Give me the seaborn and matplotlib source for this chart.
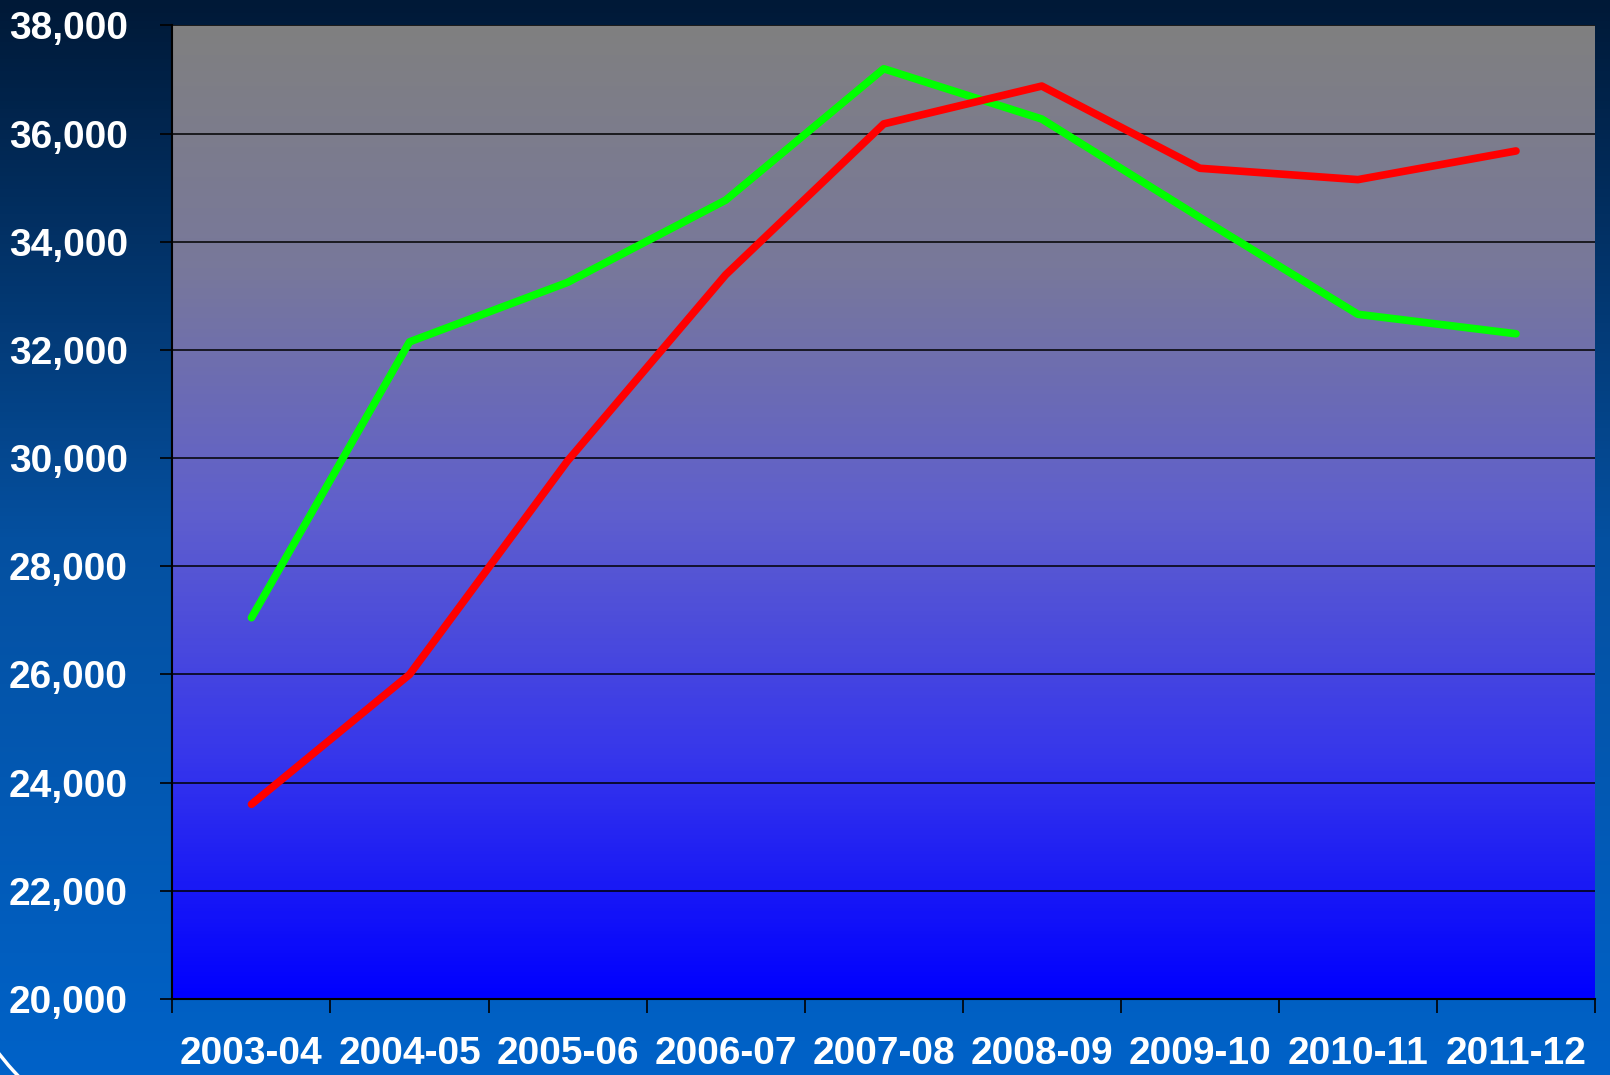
import numpy as np
import pandas as pd
import matplotlib
matplotlib.use("Agg")
import matplotlib.pyplot as plt
import seaborn as sns
from matplotlib.colors import LinearSegmentedColormap
from matplotlib.patches import Arc

# data
years = ["2003-04", "2004-05", "2005-06", "2006-07", "2007-08",
         "2008-09", "2009-10", "2010-11", "2011-12"]
green_vals = [27050, 32150, 33250, 34770, 37200, 36270, 34450, 32660, 32300]
red_vals = [23600, 26000, 29950, 33390, 36180, 36880, 35360, 35150, 35680]
y_ticks = list(range(20000, 38001, 2000))

df = pd.DataFrame({
    "year": years * 2,
    "value": green_vals + red_vals,
    "series": ["green"] * len(years) + ["red"] * len(years),
})

sns.set_style("white")
plt.rcParams['font.family'] = ['Liberation Sans', 'DejaVu Sans']

fig = plt.figure(figsize=(16.1, 10.75), dpi=100)

# slide background gradient (dark navy top -> blue bottom)
bg = fig.add_axes([0, 0, 1, 1], zorder=-10)
bg_cmap = LinearSegmentedColormap.from_list(
    "bg", [(0.0, (0/255, 25/255, 55/255)), (0.5, (5/255, 80/255, 160/255)),
           (1.0, (0/255, 98/255, 200/255))])
bg.imshow(np.linspace(0, 1, 256).reshape(-1, 1), cmap=bg_cmap, aspect="auto",
          extent=[0, 1, 0, 1])
bg.set_axis_off()
# decorative arc bottom-left
bg.add_patch(Arc((200, 175), 506, 506, theta1=195, theta2=250, color="white",
                 lw=2.5, transform=None))

ax = fig.add_axes([0.1071, 0.0707, 0.8836, 0.9056])
ax.patch.set_alpha(0)
plot_cmap = LinearSegmentedColormap.from_list(
    "plot", [(0.0, (128/255, 128/255, 128/255)), (0.25, (120/255, 120/255, 155/255)),
             (0.5, (95/255, 95/255, 205/255)), (0.75, (55/255, 55/255, 235/255)),
             (1.0, (0, 0, 1))])
ax.imshow(np.linspace(0, 1, 256).reshape(-1, 1), cmap=plot_cmap, aspect="auto",
          extent=[0, 1, 0, 1], transform=ax.transAxes, zorder=-1)

sns.lineplot(data=df, x="year", y="value", hue="series",
             palette={"green": "#00ff00", "red": "#ff0000"},
             linewidth=5.5, legend=False, ax=ax, sort=False,
             solid_capstyle="round", solid_joinstyle="round")

ax.set_xlim(-0.5, len(years) - 0.5)
ax.set_ylim(20000, 38000)
ax.set_yticks(y_ticks)
ax.set_yticklabels([f"{v:,}" for v in y_ticks])
ax.set_xticks(range(len(years)))
ax.set_xticklabels(years)
ax.set_xticks(np.arange(-0.5, len(years)), minor=True)

ax.grid(axis="y", color="black", linewidth=1.1)
ax.set_axisbelow(True)
ax.set_xlabel("")
ax.set_ylabel("")

for side in ["top", "right"]:
    ax.spines[side].set_visible(False)
for side in ["left", "bottom"]:
    ax.spines[side].set_color("black")
    ax.spines[side].set_linewidth(1.5)

ax.tick_params(axis="y", length=9, width=1.2, color="black", pad=23,
               labelsize=28, labelcolor="white", left=True)
ax.tick_params(axis="x", which="major", length=0, pad=27,
               labelsize=28, labelcolor="white")
ax.tick_params(axis="x", which="minor", length=10, width=1.2, color="black",
               bottom=True)
for lbl in ax.get_xticklabels() + ax.get_yticklabels():
    lbl.set_fontweight("bold")

fig.savefig("out.png", dpi=100)
